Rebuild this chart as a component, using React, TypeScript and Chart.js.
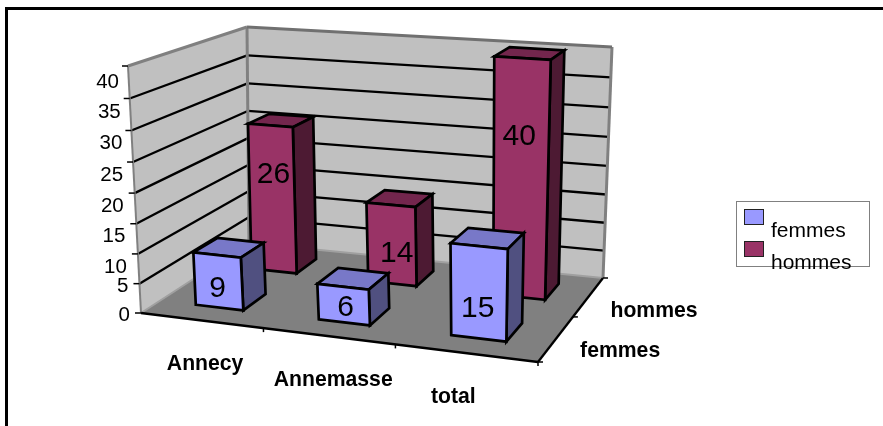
import React, { useEffect, useRef } from "react";
import { Chart, registerables } from "chart.js";

Chart.register(...registerables);

const categories = ["Annecy", "Annemasse", "total"];
const seriesNames = ["femmes", "hommes"];
const femmes = [9, 6, 15];
const hommes = [26, 14, 40];
const valueTicks = [0, 5, 10, 15, 20, 25, 30, 35, 40];

type Pt = [number, number];

// Screen corners of the box the bars stand in: front-left, front-right, back-right, back-left.
const FLOOR: Pt[] = [[141, 313], [538, 362], [603, 278], [249, 243]];
const CEILING: Pt[] = [[128, 66], [547, 99], [612, 47], [247, 27]];
const PERSPECTIVE_K = 1.06;
const BAR_WIDTH = 0.395;
const BAR_DEPTH = 0.42;
const DEPTH_SHIFT = 0.015;
const ROW_SHIFT: Record<string, number> = { femmes: 0, hommes: 0.007 };

// Where, along each bar's height, its value label sits, and its sideways nudge.
const LABEL_HEIGHT: Record<string, number[]> = {
  femmes: [0.37, 0.44, 0.33],
  hommes: [0.67, 0.39, 0.675],
};
const LABEL_NUDGE: Record<string, number[]> = {
  femmes: [-1, 2, -1],
  hommes: [2, 5, -2],
};
const TICK_LABEL_SHIFT: Record<number, Pt> = {
  0: [-11, 2], 5: [-11, 3], 10: [-11, 13], 15: [-11, 13], 20: [-11, 13],
  25: [-10, 13], 30: [-9, 13], 35: [-9, 14], 40: [-9, 16],
};
const CATEGORY_LABEL_SHIFT: Pt[] = [[4, 44], [5, 44], [-12, 44]];
const SERIES_LABEL_SHIFT: Pt[] = [[24, 13], [22, 14]];

const PALETTE: Record<string, { front: string; top: string; side: string }> = {
  femmes: { front: "#9999FF", top: "#7878C8", side: "#505080" },
  hommes: { front: "#993366", top: "#73264D", side: "#4D1A33" },
};

const FONT = '"Liberation Sans", Arial, sans-serif';

function squareToQuad(q: Pt[]) {
  const [[x0, y0], [x1, y1], [x2, y2], [x3, y3]] = q;
  const dx1 = x1 - x2, dx2 = x3 - x2, sx = x0 - x1 + x2 - x3;
  const dy1 = y1 - y2, dy2 = y3 - y2, sy = y0 - y1 + y2 - y3;
  const den = dx1 * dy2 - dx2 * dy1;
  const g = (sx * dy2 - dx2 * sy) / den;
  const h = (dx1 * sy - sx * dy1) / den;
  const a = x1 - x0 + g * x1, b = x3 - x0 + h * x3;
  const d = y1 - y0 + g * y1, e = y3 - y0 + h * y3;
  return (u: number, v: number): Pt => {
    const w = 1 + g * u + h * v;
    return [(a * u + b * v + x0) / w, (d * u + e * v + y0) / w];
  };
}

const floorAt = squareToQuad(FLOOR);
const ceilingAt = squareToQuad(CEILING);

// Maps category position, depth position and height (all 0..1) to the screen.
function project(u: number, v: number, t: number): Pt {
  const f = t / (t + PERSPECTIVE_K * (1 - t));
  const a = floorAt(u, v);
  const b = ceilingAt(u, v);
  return [a[0] + (b[0] - a[0]) * f, a[1] + (b[1] - a[1]) * f];
}

function poly(ctx: CanvasRenderingContext2D, pts: Pt[], fill?: string, stroke?: string, width = 2) {
  ctx.beginPath();
  pts.forEach((p, i) => (i ? ctx.lineTo(p[0], p[1]) : ctx.moveTo(p[0], p[1])));
  ctx.closePath();
  if (fill) { ctx.fillStyle = fill; ctx.fill(); }
  if (stroke) { ctx.strokeStyle = stroke; ctx.lineWidth = width; ctx.stroke(); }
}

function line(ctx: CanvasRenderingContext2D, a: Pt, b: Pt, color: string, width = 2) {
  ctx.beginPath();
  ctx.moveTo(a[0], a[1]);
  ctx.lineTo(b[0], b[1]);
  ctx.strokeStyle = color;
  ctx.lineWidth = width;
  ctx.stroke();
}

function text(ctx: CanvasRenderingContext2D, s: string, x: number, y: number, font: string, align: CanvasTextAlign = "center") {
  ctx.font = font;
  ctx.textAlign = align;
  ctx.textBaseline = "middle";
  ctx.fillStyle = "#000000";
  ctx.fillText(s, x, y);
}

const bars3d = {
  id: "bars3d",
  beforeDatasetsDraw(chart: any) {
    const { ctx, chartArea: area, scales } = chart;
    const uOf = (px: number) => (px - area.left) / area.width;
    const tOf = (value: number) => (area.bottom - scales.y.getPixelForValue(value)) / area.height;
    const vOf = (px: number) => (px - area.left) / area.width;

    ctx.save();
    ctx.lineJoin = "miter";
    ctx.fillStyle = "#FFFFFF";
    ctx.fillRect(0, 0, chart.width, chart.height);

    // Outer frame
    ctx.fillStyle = "#000000";
    ctx.fillRect(5, 7, chart.width - 5, 3);
    ctx.fillRect(5, 7, 3, chart.height - 7);

    // Walls
    poly(ctx, [project(0, 0, 0), project(0, 1, 0), project(0, 1, 1), project(0, 0, 1)], "#C0C0C0");
    poly(ctx, [project(0, 1, 0), project(1, 1, 0), project(1, 1, 1), project(0, 1, 1)], "#C0C0C0");

    // Grid lines
    valueTicks.forEach((value) => {
      if (value === 0 || value === 40) return;
      const t = tOf(value);
      line(ctx, project(0, 0, t), project(0, 1, t), "#000000", 2.3);
      line(ctx, project(0, 1, t), project(1, 1, t), "#000000", 2.3);
    });

    // Floor and wall outlines
    poly(ctx, [project(0, 0, 0), project(1, 0, 0), project(1, 1, 0), project(0, 1, 0)], "#808080");
    line(ctx, project(0, 0, 0), project(0, 0, 1), "#808080", 2);
    line(ctx, project(0, 1, 0), project(0, 1, 1), "#808080", 3);
    line(ctx, project(1, 1, 0), project(1, 1, 1), "#808080", 3);
    line(ctx, project(0, 0, 1), project(0, 1, 1), "#808080", 3);
    line(ctx, project(0, 1, 1), project(1, 1, 1), "#707070", 3);
    line(ctx, project(0, 1, 0), project(1, 1, 0), "#A0A0A0", 2);
    line(ctx, project(0, 0, 0), project(0, 1, 0), "#A0A0A0", 2);
    line(ctx, project(0, 0, 0), project(1, 0, 0), "#000000", 2.3);
    line(ctx, project(1, 0, 0), project(1, 1, 0), "#000000", 2.3);

    // Axis ticks
    valueTicks.forEach((value) => {
      const p = project(0, 0, tOf(value));
      line(ctx, [p[0] - 6, p[1]], p, "#000000", 1.5);
    });
    [1 / 3, 2 / 3, 1].forEach((u) => {
      const p = project(u, 0, 0);
      line(ctx, p, [p[0], p[1] + 4], "#000000", 1.5);
    });
    [0, 0.5, 1].forEach((v) => {
      const p = project(1, v, 0);
      line(ctx, p, [p[0] + 5, p[1]], "#000000", 1.5);
    });

    // Value axis labels
    valueTicks.forEach((value) => {
      const p = project(0, 0, tOf(value));
      const shift = TICK_LABEL_SHIFT[value];
      text(ctx, String(value), p[0] + shift[0], p[1] + shift[1], `20.5px ${FONT}`, "right");
    });

    // Bars, back row first
    const depthScale = scales.depth;
    [1, 0].forEach((ds) => {
      const dataset = chart.data.datasets[ds];
      const colors = PALETTE[dataset.label];
      const vc = vOf(depthScale.getPixelForValue(ds)) + DEPTH_SHIFT;
      const halfV = (BAR_DEPTH * 0.5) / 2;
      dataset.data.forEach((value: number, i: number) => {
        const uc = uOf(scales.x.getPixelForValue(i)) + ROW_SHIFT[dataset.label];
        const halfU = (BAR_WIDTH * (1 / categories.length)) / 2;
        const u0 = uc - halfU, u1 = uc + halfU, v0 = vc - halfV, v1 = vc + halfV;
        const t = tOf(value);
        poly(ctx, [project(u0, v0, t), project(u1, v0, t), project(u1, v1, t), project(u0, v1, t)], colors.top, "#000000", 2.7);
        poly(ctx, [project(u1, v0, 0), project(u1, v1, 0), project(u1, v1, t), project(u1, v0, t)], colors.side, "#000000", 2.7);
        poly(ctx, [project(u0, v0, 0), project(u1, v0, 0), project(u1, v0, t), project(u0, v0, t)], colors.front, "#000000", 2.7);
        const top = project(uc, v0, t);
        const base = project(uc, v0, 0);
        const k = LABEL_HEIGHT[dataset.label][i];
        text(
          ctx,
          String(value),
          base[0] + (top[0] - base[0]) * k + LABEL_NUDGE[dataset.label][i],
          base[1] + (top[1] - base[1]) * k + 1,
          `30px ${FONT}`,
        );
      });
    });

    // Category and series labels
    categories.forEach((name, i) => {
      const p = project(uOf(scales.x.getPixelForValue(i)), 0, 0);
      const s = CATEGORY_LABEL_SHIFT[i];
      text(ctx, name, p[0] + s[0], p[1] + s[1], `bold 21.2px ${FONT}`);
    });
    seriesNames.forEach((name, j) => {
      const p = project(1, vOf(depthScale.getPixelForValue(j)), 0);
      const s = SERIES_LABEL_SHIFT[j];
      text(ctx, name, p[0] + s[0], p[1] + s[1], `bold 21.2px ${FONT}`, "left");
    });

    // Legend
    ctx.strokeStyle = "#808080";
    ctx.lineWidth = 1;
    ctx.strokeRect(736.5, 201.5, 133, 65);
    seriesNames.forEach((name, j) => {
      const y = 209 + j * 32;
      ctx.fillStyle = PALETTE[name].front;
      ctx.fillRect(744, y, 20, 16);
      ctx.strokeStyle = "#222222";
      ctx.lineWidth = 1;
      ctx.strokeRect(744.5, y + 0.5, 19, 15);
      text(ctx, name, 771, 231 + j * 32, `21px ${FONT}`, "left");
    });

    ctx.restore();
    return false;
  },
};

export default function App() {
  const ref = useRef<HTMLCanvasElement>(null);
  useEffect(() => {
    const chart = new Chart(ref.current as HTMLCanvasElement, {
      type: "bar",
      data: {
        labels: categories,
        datasets: [
          { label: seriesNames[0], data: femmes, backgroundColor: PALETTE.femmes.front },
          { label: seriesNames[1], data: hommes, backgroundColor: PALETTE.hommes.front },
        ],
      },
      options: {
        responsive: false,
        animation: false,
        layout: { padding: 0 },
        plugins: { legend: { display: false }, tooltip: { enabled: false } },
        scales: {
          x: { type: "category", display: false, offset: true },
          y: { type: "linear", display: false, min: 0, max: 40, ticks: { stepSize: 5 } },
          depth: { type: "category", axis: "x", position: "top", display: false, offset: true, labels: seriesNames },
        },
      } as any,
      plugins: [bars3d],
    });
    return () => chart.destroy();
  }, []);
  return (
    <canvas
      ref={ref}
      width={883}
      height={426}
      style={{ position: "fixed", left: 0, top: 0, width: 883, height: 426, display: "block" }}
    />
  );
}
